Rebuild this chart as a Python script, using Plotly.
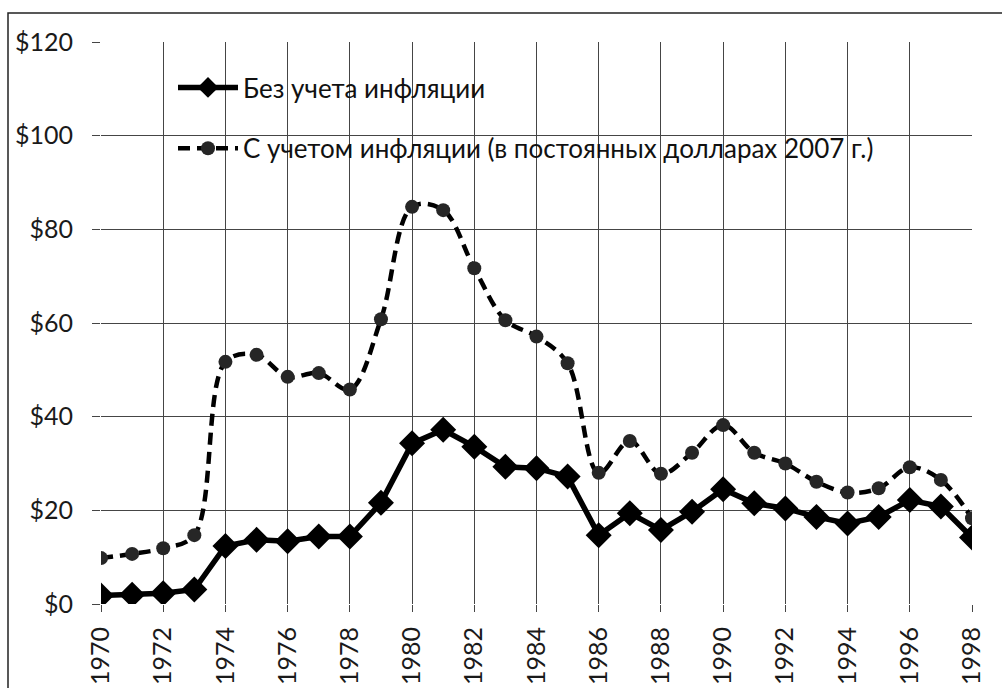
import plotly.graph_objects as go

years = list(range(1970, 1999))
nominal = [1.8, 2.0, 2.3, 3.1, 12.4, 13.7, 13.4, 14.4, 14.4, 21.6,
           34.3, 37.2, 33.6, 29.3, 29.0, 27.2, 14.7, 19.4, 15.8, 19.7,
           24.5, 21.5, 20.4, 18.6, 17.2, 18.6, 22.2, 20.8, 14.2]
real_2007 = [9.8, 10.7, 11.9, 14.7, 51.7, 53.2, 48.5, 49.3, 45.8, 60.8,
             84.8, 84.1, 71.7, 60.6, 57.1, 51.4, 28.0, 34.8, 27.8, 32.3,
             38.2, 32.3, 30.0, 26.1, 23.8, 24.7, 29.2, 26.5, 18.3]
name_nominal = "Без учета инфляции"
name_real = "С учетом инфляции (в постоянных долларах 2007 г.)"
y_ticks = [0, 20, 40, 60, 80, 100, 120]
y_tick_text = ["$0", "$20", "$40", "$60", "$80", "$100", "$120"]
x_ticks = list(range(1970, 1999, 2))

W, H = 1002, 688
L, R, T, B = 101, 30, 42, 84
pw, ph = W - L - R, H - T - B


def px_x(p):
    return (p - L) / pw


def px_y(p):
    return (H - B - p) / ph


fig = go.Figure()
fig.add_trace(go.Scatter(
    x=years, y=nominal, name=name_nominal, mode="lines+markers",
    line=dict(color="#000000", width=5.5),
    marker=dict(symbol="diamond", size=20, color="#000000"),
    legendgroup="a",
))
fig.add_trace(go.Scatter(
    x=years, y=real_2007, name=name_real, mode="lines+markers",
    line=dict(color="#000000", width=4.5, dash="12px,7px", shape="spline", smoothing=1.0),
    marker=dict(symbol="circle", size=14, color="#262626"),
    legendgroup="b",
))

# white box behind the legend (hides gridlines)
fig.add_shape(type="rect", xref="paper", yref="paper",
              x0=px_x(146), x1=px_x(899), y0=px_y(185), y1=px_y(57),
              fillcolor="white", line=dict(width=0), layer="between")
# outer frame of the picture
fig.add_shape(type="rect", xref="paper", yref="paper",
              x0=px_x(8), x1=px_x(1015), y0=px_y(705), y1=px_y(13),
              fillcolor="rgba(0,0,0,0)", line=dict(color="#222222", width=1.5), layer="above")

fig.update_layout(
    template="none",
    width=W, height=H,
    margin=dict(l=L, r=R, t=T, b=B, autoexpand=False),
    paper_bgcolor="white", plot_bgcolor="white",
    font=dict(family="Lato, 'Open Sans', sans-serif", color="#1a1a1a"),
    showlegend=True,
    legend=dict(
        x=px_x(173), y=px_y(64), xanchor="left", yanchor="top",
        bgcolor="rgba(0,0,0,0)", borderwidth=0,
        font=dict(size=26, family="Lato, sans-serif", color="#111111"),
        tracegroupgap=24, itemwidth=60,
    ),
)
fig.update_xaxes(
    range=[1970, 1998], tickmode="array", tickvals=x_ticks,
    ticktext=[str(v) for v in x_ticks], tickangle=-90,
    showgrid=True, gridcolor="#454545", gridwidth=1,
    ticks="outside", ticklen=7, tickcolor="#454545",
    tickfont=dict(size=25, family="Lato, sans-serif", color="#1a1a1a"),
    ticklabelstandoff=5, automargin=False,
    showline=False, zeroline=False,
)
fig.update_yaxes(
    range=[0, 120], tickmode="array", tickvals=y_ticks, ticktext=y_tick_text,
    showgrid=True, gridcolor="#454545", gridwidth=1,
    ticks="outside", ticklen=8, tickcolor="#454545",
    tickfont=dict(size=25, family="Lato, sans-serif", color="#1a1a1a"),
    ticklabelstandoff=14, automargin=False,
    showline=False, zeroline=False,
)

fig.write_html("out.html", config={"displayModeBar": False},
               post_script="document.body.style.margin='0';")
